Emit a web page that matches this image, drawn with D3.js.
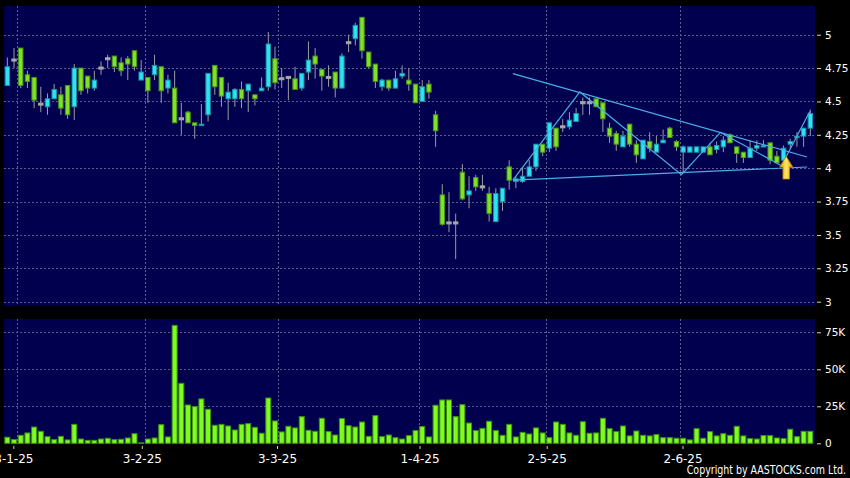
<!DOCTYPE html>
<html><head><meta charset="utf-8">
<script src="https://cdn.jsdelivr.net/npm/d3@7"></script>
<style>html,body{margin:0;padding:0;background:#000;overflow:hidden}</style>
</head><body><svg id="c" width="850" height="478"></svg>
<script>
// ---- data (index = trading day) ----
const open  = [4.62,4.81,4.90,4.70,4.68,4.48,4.46,4.52,4.55,4.62,4.46,4.75,4.69,4.60,4.75,4.82,4.84,4.79,4.82,4.88,
               4.66,4.68,4.70,4.76,4.60,4.60,4.37,4.42,4.34,4.32,4.40,4.77,4.68,4.52,4.52,4.59,4.58,4.55,4.58,4.61,
               4.82,4.67,4.68,4.67,4.60,4.72,4.84,4.74,4.68,4.72,4.60,4.94,4.97,5.13,4.87,4.78,4.61,4.66,4.60,4.69,
               4.66,4.63,4.50,4.63,4.40,3.80,3.59,3.59,3.97,3.80,3.93,3.86,3.81,3.60,3.75,4.01,3.90,3.90,3.94,4.01,
               4.18,4.15,4.30,4.31,4.31,4.35,4.49,4.49,4.52,4.49,4.30,4.26,4.16,4.33,4.18,4.07,4.20,4.12,4.19,4.30,
               4.20,4.12,4.12,4.12,4.12,4.16,4.14,4.16,4.25,4.16,4.12,4.08,4.15,4.16,4.19,4.09,4.06,4.18,4.23,4.24,
               4.30];
const high  = [4.83,4.90,4.90,4.73,4.68,4.61,4.56,4.63,4.61,4.62,4.78,4.75,4.69,4.73,4.80,4.85,4.84,4.83,4.84,4.88,
               4.81,4.68,4.85,4.76,4.70,4.73,4.49,4.43,4.34,4.48,4.71,4.77,4.68,4.64,4.60,4.65,4.63,4.55,4.68,5.02,
               4.91,4.75,4.69,4.76,4.71,4.95,4.90,4.74,4.77,4.72,4.86,5.00,5.09,5.13,4.87,4.78,4.67,4.66,4.73,4.77,
               4.75,4.63,4.66,4.66,4.43,3.88,3.82,3.66,4.03,3.94,3.95,3.95,3.86,3.85,3.85,4.06,3.94,4.01,4.06,4.18,
               4.18,4.34,4.30,4.37,4.42,4.45,4.53,4.53,4.52,4.49,4.34,4.28,4.28,4.33,4.21,4.21,4.27,4.24,4.29,4.31,
               4.21,4.17,4.16,4.16,4.16,4.19,4.20,4.24,4.26,4.16,4.12,4.21,4.21,4.21,4.19,4.13,4.17,4.22,4.27,4.30,
               4.44];
const low   = [4.62,4.75,4.60,4.60,4.45,4.42,4.40,4.52,4.40,4.37,4.36,4.55,4.56,4.58,4.70,4.75,4.72,4.69,4.66,4.73,
               4.66,4.49,4.66,4.49,4.56,4.34,4.25,4.34,4.22,4.32,4.35,4.55,4.46,4.36,4.46,4.45,4.42,4.47,4.58,4.58,
               4.59,4.60,4.51,4.59,4.58,4.66,4.67,4.58,4.61,4.53,4.60,4.87,4.92,4.82,4.75,4.60,4.58,4.58,4.60,4.67,
               4.58,4.49,4.50,4.52,4.16,3.57,3.52,3.32,3.76,3.70,3.83,3.83,3.60,3.60,3.68,3.84,3.85,3.89,3.94,3.98,
               4.09,4.12,4.13,4.27,4.29,4.35,4.40,4.40,4.46,4.27,4.19,4.13,4.16,4.16,4.04,4.07,4.12,4.12,4.19,4.23,
               4.13,3.97,4.12,4.12,4.12,4.10,4.11,4.12,4.19,4.04,4.04,4.08,4.13,4.16,4.03,4.04,4.06,4.15,4.16,4.16,
               4.24];
const close = [4.76,4.81,4.62,4.65,4.51,4.48,4.52,4.59,4.45,4.40,4.75,4.58,4.60,4.66,4.75,4.82,4.76,4.73,4.78,4.76,
               4.72,4.58,4.77,4.58,4.66,4.34,4.37,4.34,4.32,4.33,4.71,4.61,4.54,4.57,4.59,4.52,4.63,4.52,4.60,4.93,
               4.64,4.67,4.68,4.59,4.71,4.81,4.78,4.69,4.68,4.60,4.84,4.94,5.07,4.88,4.76,4.65,4.66,4.60,4.67,4.71,
               4.63,4.49,4.61,4.57,4.28,3.58,3.59,3.59,3.77,3.83,3.86,3.86,3.66,3.81,3.85,3.91,3.92,3.94,4.01,4.18,
               4.12,4.34,4.16,4.31,4.36,4.41,4.49,4.49,4.46,4.37,4.24,4.18,4.24,4.18,4.10,4.21,4.15,4.18,4.21,4.23,
               4.16,4.16,4.16,4.16,4.16,4.10,4.17,4.21,4.19,4.11,4.08,4.15,4.17,4.17,4.06,4.04,4.15,4.20,4.24,4.30,
               4.41];
const volume = [4100,2500,5400,7000,11000,8100,4500,2500,4700,2300,12800,2900,2000,2000,2900,3400,2500,2700,3600,6500,
                300,2900,3600,12600,4300,79700,40500,25900,24800,30000,23000,12200,12800,11700,9000,12800,13300,10800,6800,30600,
                15100,7700,11500,10400,18000,8800,8100,16900,7900,5600,16700,11900,11000,14400,4700,18700,4500,5600,3800,2900,
                5200,8600,11300,4300,25700,29300,29300,18000,26100,13700,8600,10100,14900,8600,5400,12800,4300,7400,6300,10400,
                7000,3800,14400,12800,7000,5400,14600,6800,7000,16900,9900,7900,11700,5000,8300,5400,5000,5900,3800,3800,
                3400,3400,2300,9900,3400,7900,5000,6500,5400,11500,5000,3200,2900,5200,5200,3600,3200,9500,4500,8100,
                8100];
const dateLabels = ["3-1-25","3-2-25","3-3-25","1-4-25","2-5-25","2-6-25"];
const dateLabelIdx = [0.9, 20.1, 40.3, 61.6, 80.6, 100.9];
const monthGridIdx = [1.5, 20.5, 40.5, 61.5, 80.5, 100.5];
const priceTicks = [3, 3.25, 3.5, 3.75, 4, 4.25, 4.5, 4.75, 5];
const volumeTicks = [0, 25000, 50000, 75000];
// drawn trend lines: [index, price]
const upperLine = [[75.55, 4.708], [119.52, 4.084]];
const lowerLine = [[75.55, 3.910], [119.52, 4.009]];
const zigzag = [[75.55, 3.910], [85.56, 4.571], [100.75, 3.951], [106.58, 4.268], [115.69, 4.019], [119.92, 4.425]];
const arrowAt = [116.4, 4.088];

// ---- chart ----
const svg = d3.select("#c");
const N = open.length;
const P = {x0: 4, x1: 815, py0: 6, py1: 306, vy0: 319, vy1: 444};
const x = d3.scaleLinear().domain([-0.5, 120.7]).range([P.x0, P.x1]);
const yP = d3.scaleLinear().domain([3, 5]).range([301.7, 34.7]);
const yV = d3.scaleLinear().domain([0, 75000]).range([443.3, 332.3]);
const navy = "#00004f", grid = "#5d5d92";

svg.append("rect").attr("width", 850).attr("height", 478).attr("fill", "#000");
svg.append("rect").attr("x", P.x0).attr("y", P.py0).attr("width", P.x1 - P.x0).attr("height", P.py1 - P.py0).attr("fill", navy);
svg.append("rect").attr("x", P.x0).attr("y", P.vy0).attr("width", P.x1 - P.x0).attr("height", P.vy1 - P.vy0).attr("fill", navy);

const defs = svg.append("defs");
defs.append("clipPath").attr("id", "cp").append("rect").attr("x", P.x0).attr("y", P.py0).attr("width", P.x1 - P.x0).attr("height", P.py1 - P.py0);
const gradA = defs.append("linearGradient").attr("id", "ga").attr("x1", 0).attr("x2", 1).attr("y1", 0).attr("y2", 0);
gradA.append("stop").attr("offset", "0%").attr("stop-color", "#e09400");
gradA.append("stop").attr("offset", "50%").attr("stop-color", "#ffea60");
gradA.append("stop").attr("offset", "100%").attr("stop-color", "#e09400");

// gridlines
const gg = svg.append("g").attr("stroke", grid).attr("stroke-width", 1).attr("stroke-dasharray", "2,2");
gg.selectAll(".hp").data(priceTicks).join("line")
  .attr("x1", P.x0).attr("x2", P.x1).attr("y1", d => Math.round(yP(d)) + 0.5).attr("y2", d => Math.round(yP(d)) + 0.5);
gg.selectAll(".hv").data(volumeTicks.slice(1)).join("line")
  .attr("x1", P.x0).attr("x2", P.x1).attr("y1", d => Math.round(yV(d)) + 0.5).attr("y2", d => Math.round(yV(d)) + 0.5);
gg.selectAll(".vp").data(monthGridIdx).join("line")
  .attr("x1", d => Math.round(x(d)) + 0.5).attr("x2", d => Math.round(x(d)) + 0.5).attr("y1", P.py0).attr("y2", P.py1);
gg.selectAll(".vv").data(monthGridIdx).join("line")
  .attr("x1", d => Math.round(x(d)) + 0.5).attr("x2", d => Math.round(x(d)) + 0.5).attr("y1", P.vy0).attr("y2", P.vy1);

// candles
const idx = d3.range(N);
const cg = svg.append("g").attr("clip-path", "url(#cp)");
const bw = 4.4;
cg.selectAll(".wick").data(idx).join("line")
  .attr("x1", i => x(i)).attr("x2", i => x(i))
  .attr("y1", i => yP(high[i])).attr("y2", i => yP(low[i]))
  .attr("stroke", "#9c9c9c").attr("stroke-width", 1);
cg.selectAll(".body").data(idx).join("rect")
  .attr("x", i => x(i) - bw / 2)
  .attr("width", bw)
  .attr("y", i => close[i] === open[i] ? yP(close[i]) - 1 : yP(Math.max(open[i], close[i])))
  .attr("height", i => close[i] === open[i] ? 2 : Math.max(1.5, yP(Math.min(open[i], close[i])) - yP(Math.max(open[i], close[i]))))
  .attr("fill", i => close[i] > open[i] ? "#2fe2f2" : close[i] < open[i] ? "#80e02a" : "#a8a8a8")
  .attr("stroke", i => close[i] > open[i] ? "#1a93a8" : close[i] < open[i] ? "#4a9418" : "#a8a8a8")
  .attr("stroke-width", 1);

// trend lines
const line = d3.line().x(d => x(d[0])).y(d => yP(d[1]));
[upperLine, lowerLine, zigzag].forEach(pts => {
  cg.append("path").attr("d", line(pts)).attr("fill", "none").attr("stroke", "#4aaee6").attr("stroke-width", 1.2);
});

// arrow
const ax = x(arrowAt[0]), ay = yP(arrowAt[1]);
cg.append("path")
  .attr("d", `M${ax},${ay} L${ax + 6.6},${ay + 10.6} L${ax + 3.3},${ay + 10.6} L${ax + 3.3},${ay + 22.6} L${ax - 3.3},${ay + 22.6} L${ax - 3.3},${ay + 10.6} L${ax - 6.6},${ay + 10.6} Z`)
  .attr("fill", "url(#ga)").attr("stroke", "#c07800").attr("stroke-width", 0.8);

// volume bars
svg.append("g").selectAll("rect").data(idx).join("rect")
  .attr("x", i => x(i) - 2.5).attr("width", 5)
  .attr("y", i => yV(volume[i])).attr("height", i => Math.max(0.5, yV(0) - yV(volume[i])))
  .attr("fill", "#7dfc1e").attr("stroke", "#3f8f12").attr("stroke-width", 1);

// axes
const fmtP = d => String(d);
const fmtV = d => d === 0 ? "0" : (d / 1000) + "K";
function styleAxis(g) {
  g.select(".domain").remove();
  g.selectAll("line").attr("stroke", "#cfcfcf");
  g.selectAll("text").attr("fill", "#ffffff").style("font-family", "DejaVu Sans, sans-serif");
}
svg.append("g").attr("transform", "translate(817,0)")
  .call(d3.axisRight(yP).tickValues(priceTicks).tickFormat(fmtP).tickSize(4).tickPadding(4))
  .call(styleAxis).selectAll("text").style("font-size", "10.5px");
svg.append("g").attr("transform", "translate(817,0)")
  .call(d3.axisRight(yV).tickValues(volumeTicks).tickFormat(fmtV).tickSize(4).tickPadding(4))
  .call(styleAxis).selectAll("text").style("font-size", "10.5px");
svg.append("g").attr("transform", "translate(0,446)")
  .call(d3.axisBottom(x).tickValues(dateLabelIdx).tickFormat((d, i) => dateLabels[i]).tickSize(3).tickPadding(5))
  .call(styleAxis).selectAll("text").style("font-size", "12px");

svg.append("g").attr("transform", "translate(846,474) scale(0.824,1)")
  .append("text").attr("x", 0).attr("y", 0).attr("text-anchor", "end")
  .attr("fill", "#ffffff").style("font-family", "DejaVu Sans, sans-serif").style("font-size", "11.5px")
  .text("Copyright by AASTOCKS.com Ltd.");
</script>
</body></html>
